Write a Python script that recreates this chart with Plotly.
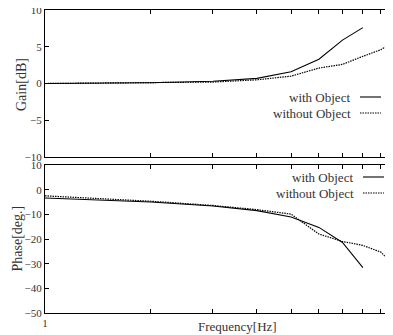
import plotly.graph_objects as go

# ---- data ----
freq = [1, 2, 3, 4, 5, 6, 7, 8, 9, 10]
gain_with = [0.0, 0.1, 0.3, 0.7, 1.6, 3.3, 5.9, 7.6]
gain_without = [0.0, 0.1, 0.2, 0.5, 1.0, 2.1, 2.6, 3.7, 4.6, 5.9]
phase_with = [-3.4, -5.0, -6.6, -8.5, -11.1, -15.3, -21.4, -31.6]
phase_without = [-2.5, -4.7, -6.4, -8.1, -9.9, -18.0, -21.0, -22.6, -25.3, -32.0]
gain_ticks = [10, 5, 0, -5, -10]
phase_ticks = [10, 0, -10, -20, -30, -40, -50]
x_tick_vals = [1, 2, 3, 4, 5, 6, 7, 8, 9, 10]
x_tick_text = ["1", "", "", "", "", "", "", "", "", "10"]
series_names = ["with Object", "without Object"]

# page shows the figure offset by 8px (body margin); positions below are in figure px
OFF = 8
W, H = 393, 335
L = 45 - OFF
T = 10 - OFF
right_px = 397 - OFF
R = W - right_px
bottom_px = 313 - OFF
B = H - bottom_px
pw = W - L - R
ph = H - T - B

def py(p):  # reference pixel y -> paper
    return (H - B - (p - OFF)) / ph

def px(p):  # reference pixel x -> paper
    return ((p - OFF) - L) / pw

FONT = "Liberation Serif"
TICKC = "#333333"
DOT = "1.5px,1px"

fig = go.Figure()
fig.add_trace(go.Scatter(x=freq[:len(gain_with)], y=gain_with, mode="lines",
                         line=dict(color="black", width=1.1), xaxis="x", yaxis="y", showlegend=False))
fig.add_trace(go.Scatter(x=freq[:len(gain_without)], y=gain_without, mode="lines",
                         line=dict(color="black", width=1.2, dash=DOT), xaxis="x", yaxis="y", showlegend=False))
fig.add_trace(go.Scatter(x=freq[:len(phase_with)], y=phase_with, mode="lines",
                         line=dict(color="black", width=1.1), xaxis="x2", yaxis="y2", showlegend=False))
fig.add_trace(go.Scatter(x=freq[:len(phase_without)], y=phase_without, mode="lines",
                         line=dict(color="black", width=1.2, dash=DOT), xaxis="x2", yaxis="y2", showlegend=False))

xcommon = dict(type="log", range=[0, 1], showgrid=False, zeroline=False, automargin=False,
               ticklabeloverflow="allow",
               showline=True, linecolor="black", linewidth=1, mirror="ticks",
               ticks="inside", ticklen=4, tickcolor="black", tickwidth=1,
               tickvals=x_tick_vals, tickfont=dict(family=FONT, size=11, color=TICKC))
ycommon = dict(showgrid=False, zeroline=False, showline=True, linecolor="black", automargin=False,
               ticklabeloverflow="allow",
               linewidth=1, mirror="ticks", ticks="inside", ticklen=4, tickcolor="black",
               tickwidth=1, tickfont=dict(family=FONT, size=11, color=TICKC))

fig.update_layout(
    width=W, height=H,
    margin=dict(l=L, r=R, t=T, b=B, autoexpand=False),
    paper_bgcolor="white", plot_bgcolor="white",
    font=dict(family=FONT, color=TICKC),
    xaxis=dict(**xcommon, domain=[0, 1], anchor="y", showticklabels=False),
    yaxis=dict(**ycommon, domain=[py(157), 1], range=[-10, 10], tickvals=gain_ticks),
    xaxis2=dict(**xcommon, domain=[0, 1], anchor="y2", ticktext=x_tick_text),
    yaxis2=dict(**ycommon, domain=[0, py(165)], range=[-50, 10], tickvals=phase_ticks),
)

annotations = [
    dict(text="Frequency[Hz]", xref="paper", yref="paper", x=px(237), y=py(326), showarrow=False,
         xanchor="center", yanchor="middle", font=dict(family=FONT, size=13, color=TICKC)),
    dict(text="Gain[dB]", xref="paper", yref="paper", x=px(21), y=py(85), showarrow=False,
         textangle=-90, xanchor="center", yanchor="middle", font=dict(family=FONT, size=14, color=TICKC)),
    dict(text="Phase[deg.]", xref="paper", yref="paper", x=px(17.5), y=py(239), showarrow=False,
         textangle=-90, xanchor="center", yanchor="middle", font=dict(family=FONT, size=14, color=TICKC)),
]
shapes = []
legend_pos = [
    (352, 97, 360, 381), (353, 113, 360, 381),
    (355, 177, 363, 384), (356, 193, 363, 384),
]
for i, (tx, ty, l0, l1) in enumerate(legend_pos):
    name = series_names[i % 2]
    annotations.append(dict(text=name, xref="paper", yref="paper", x=px(tx), y=py(ty),
                            showarrow=False, xanchor="right", yanchor="middle",
                            font=dict(family=FONT, size=13, color=TICKC)))
    shapes.append(dict(type="line", xref="paper", yref="paper", x0=px(l0), x1=px(l1),
                       y0=py(ty), y1=py(ty),
                       line=dict(color="black", width=1.1, dash="solid" if i % 2 == 0 else DOT)))
fig.update_layout(annotations=annotations, shapes=shapes)

fig.write_html("out.html")
